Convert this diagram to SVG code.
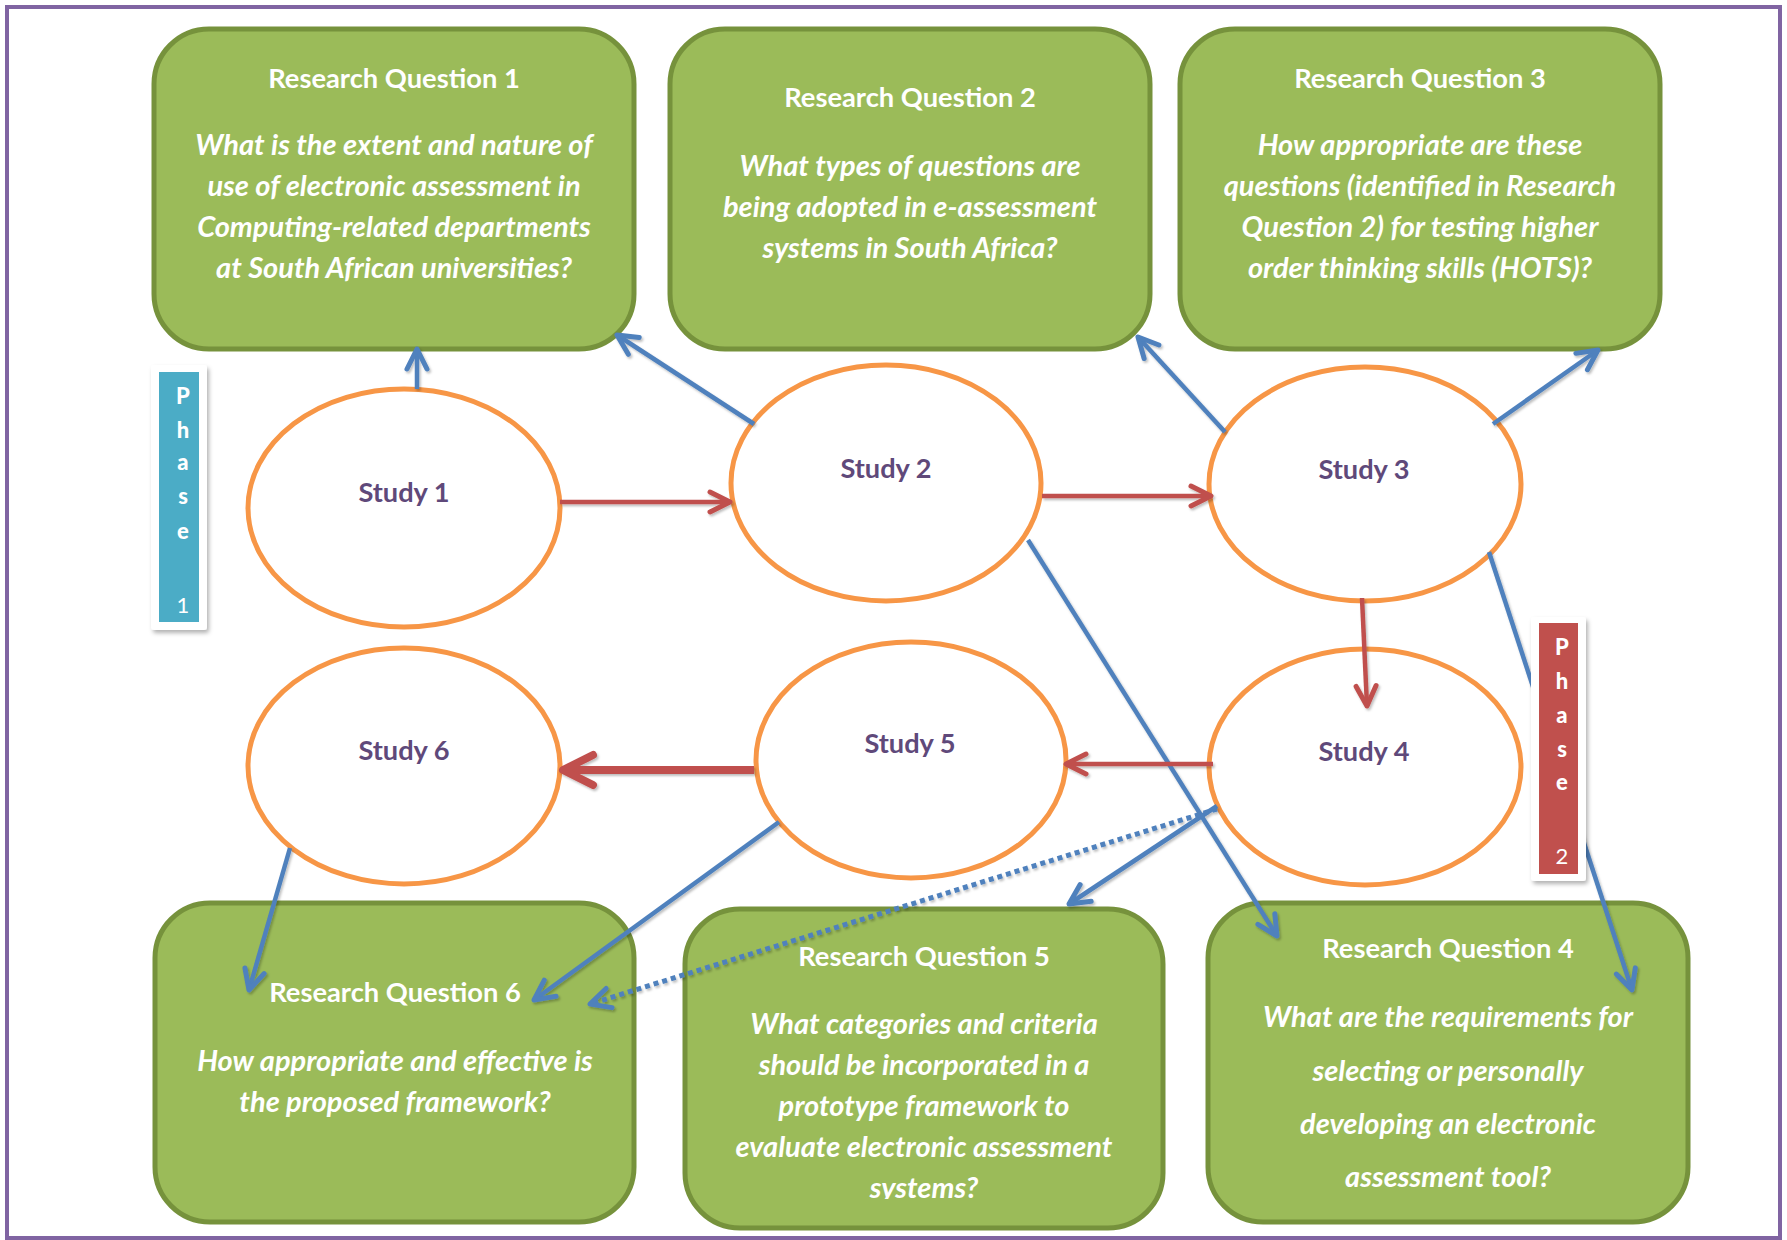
<svg xmlns="http://www.w3.org/2000/svg" width="1787" height="1240" viewBox="0 0 1787 1240">
<style>
.rq{fill:#9BBB59;stroke:#76923C;stroke-width:5}
.st{fill:#FFFFFF;stroke:#F79646;stroke-width:5}
.ttl{font-family:Lato,"Liberation Sans",sans-serif;font-weight:bold;font-size:27.3px;fill:#FFFFFF;text-anchor:middle}
.bdy{font-family:Lato,"Liberation Sans",sans-serif;font-weight:bold;font-style:italic;font-size:29px;fill:#FFFFFF;text-anchor:middle}
.sl{font-family:Lato,"Liberation Sans",sans-serif;font-weight:bold;font-size:27.2px;fill:#5F497A;text-anchor:middle}
.ph{font-family:Lato,"Liberation Sans",sans-serif;font-weight:900;font-size:22px;fill:#FFFFFF;text-anchor:middle}
.phn{font-family:Lato,"Liberation Sans",sans-serif;font-weight:normal;font-size:22px;fill:#FFFFFF;text-anchor:middle}
.blue{stroke:#4F81BD;stroke-width:4.5;fill:none;marker-end:url(#ab)}
.red{stroke:#C0504D;stroke-width:4.5;fill:none;marker-end:url(#ar)}
.redk{stroke:#C0504D;stroke-width:8;fill:none;marker-end:url(#ark)}
.dot{stroke:#4F81BD;stroke-width:5;fill:none;stroke-dasharray:5 4;marker-end:url(#ab)}
</style>
<defs>
<marker id="ab" markerUnits="userSpaceOnUse" viewBox="-26 -14 30 28" refX="0" refY="0" markerWidth="30" markerHeight="28" orient="auto" overflow="visible">
<path d="M-20,-10 L0,0 L-20,10" fill="none" stroke="#4F81BD" stroke-width="5" stroke-linecap="round" stroke-linejoin="round"/>
</marker>
<marker id="ar" markerUnits="userSpaceOnUse" viewBox="-26 -14 30 28" refX="0" refY="0" markerWidth="30" markerHeight="28" orient="auto" overflow="visible">
<path d="M-20,-10 L0,0 L-20,10" fill="none" stroke="#C0504D" stroke-width="5" stroke-linecap="round" stroke-linejoin="round"/>
</marker>
<marker id="ark" markerUnits="userSpaceOnUse" viewBox="-36 -20 40 40" refX="0" refY="0" markerWidth="40" markerHeight="40" orient="auto" overflow="visible">
<path d="M-30,-15 L0,0 L-30,15" fill="none" stroke="#C0504D" stroke-width="8" stroke-linecap="round" stroke-linejoin="round"/>
</marker>
<filter id="sh" x="-20%" y="-20%" width="140%" height="140%">
<feDropShadow dx="2" dy="3" stdDeviation="2" flood-color="#000000" flood-opacity="0.3"/>
</filter>
<filter id="lsh" x="-10%" y="-10%" width="120%" height="120%">
<feDropShadow dx="1.5" dy="2" stdDeviation="1.2" flood-color="#000000" flood-opacity="0.25"/>
</filter>
<clipPath id="c5"><rect x="685" y="909" width="478" height="290"/></clipPath>
</defs>

<rect x="7" y="7" width="1773" height="1231" fill="#FFFFFF" stroke="#8064A2" stroke-width="4"/>

<g id="rq1">
<rect class="rq" x="154" y="29" width="480" height="320" rx="55"/>
<text class="ttl" x="394" y="88">Research Question 1</text>
<text class="bdy" x="394" y="155">What is the extent and nature of</text>
<text class="bdy" x="394" y="196">use of electronic assessment in</text>
<text class="bdy" x="394" y="237">Computing-related departments</text>
<text class="bdy" x="394" y="278">at South African universities?</text>
</g>
<g id="rq2">
<rect class="rq" x="670" y="29" width="480" height="320" rx="55"/>
<text class="ttl" x="910" y="107">Research Question 2</text>
<text class="bdy" x="910" y="176">What types of questions are</text>
<text class="bdy" x="910" y="217">being adopted in e-assessment</text>
<text class="bdy" x="910" y="258">systems in South Africa?</text>
</g>
<g id="rq3">
<rect class="rq" x="1180" y="29" width="480" height="320" rx="55"/>
<text class="ttl" x="1420" y="88">Research Question 3</text>
<text class="bdy" x="1420" y="155">How appropriate are these</text>
<text class="bdy" x="1420" y="196">questions (identified in Research</text>
<text class="bdy" x="1420" y="237">Question 2) for testing higher</text>
<text class="bdy" x="1420" y="278">order thinking skills (HOTS)?</text>
</g>
<g id="rq4">
<rect class="rq" x="1208" y="903" width="480" height="319" rx="55"/>
<text class="ttl" x="1448" y="958">Research Question 4</text>
<text class="bdy" x="1448" y="1027">What are the requirements for</text>
<text class="bdy" x="1448" y="1081">selecting or personally</text>
<text class="bdy" x="1448" y="1134">developing an electronic</text>
<text class="bdy" x="1448" y="1187">assessment tool?</text>
</g>
<g id="rq5">
<rect class="rq" x="685" y="909" width="478" height="319" rx="55"/>
<g clip-path="url(#c5)">
<text class="ttl" x="924" y="966">Research Question 5</text>
<text class="bdy" x="924" y="1034">What categories and criteria</text>
<text class="bdy" x="924" y="1075">should be incorporated in a</text>
<text class="bdy" x="924" y="1116">prototype framework to</text>
<text class="bdy" x="924" y="1157">evaluate electronic assessment</text>
<text class="bdy" x="924" y="1198">systems?</text>
</g>
</g>
<g id="rq6">
<rect class="rq" x="155" y="903" width="479" height="319" rx="55"/>
<text class="ttl" x="395" y="1002">Research Question 6</text>
<text class="bdy" x="395" y="1071">How appropriate and effective is</text>
<text class="bdy" x="395" y="1112">the proposed framework?</text>
</g>

<g id="study1"><ellipse class="st" cx="404" cy="508" rx="156" ry="119"/><text class="sl" x="404" y="502">Study 1</text></g>
<g id="study2"><ellipse class="st" cx="886" cy="483" rx="155" ry="118"/><text class="sl" x="886" y="478">Study 2</text></g>
<g id="study3"><ellipse class="st" cx="1365" cy="484" rx="156" ry="117"/><text class="sl" x="1364" y="479">Study 3</text></g>
<g id="study4"><ellipse class="st" cx="1365" cy="767" rx="156" ry="118"/><text class="sl" x="1364" y="761">Study 4</text></g>
<g id="study5"><ellipse class="st" cx="911" cy="760" rx="155" ry="118"/><text class="sl" x="910" y="753">Study 5</text></g>
<g id="study6"><ellipse class="st" cx="404" cy="766" rx="156" ry="118"/><text class="sl" x="404" y="760">Study 6</text></g>

<g id="connectors" filter="url(#lsh)">
<line class="blue" x1="417" y1="389" x2="417" y2="349"/>
<line class="blue" x1="754" y1="424" x2="617" y2="335"/>
<line class="blue" x1="1225" y1="432" x2="1138" y2="337"/>
<line class="blue" x1="1493" y1="424" x2="1598" y2="350"/>
<line class="blue" x1="1489" y1="552" x2="1632" y2="990"/>
<line class="blue" x1="1028" y1="540" x2="1277" y2="936"/>
<line class="red" x1="1362" y1="598" x2="1367" y2="706"/>
<line class="red" x1="560" y1="502" x2="730" y2="502"/>
<line class="red" x1="1042" y1="496" x2="1211" y2="496"/>
<line class="red" x1="1213" y1="764" x2="1066" y2="764"/>
<line class="redk" x1="754" y1="770" x2="563" y2="770"/>
<line class="blue" x1="290" y1="848" x2="249" y2="990"/>
<line class="blue" x1="779" y1="822" x2="534" y2="1000"/>
<line class="blue" x1="1217" y1="806" x2="1069" y2="904"/>
<line class="dot" x1="1217" y1="809" x2="590" y2="1004"/>
</g>

<g id="phase1">
<rect x="151" y="365" width="56" height="265" rx="3" fill="#FFFFFF" filter="url(#sh)"/>
<rect x="159" y="372" width="40" height="250" fill="#4BACC6"/>
<text class="ph" x="183" y="404">P</text>
<text class="ph" x="183" y="438">h</text>
<text class="ph" x="183" y="470">a</text>
<text class="ph" x="183" y="504">s</text>
<text class="ph" x="183" y="539">e</text>
<text class="phn" x="183" y="613">1</text>
</g>
<g id="phase2">
<rect x="1531" y="617" width="55" height="264" rx="3" fill="#FFFFFF" filter="url(#sh)"/>
<rect x="1539" y="623" width="39" height="251" fill="#C0504D"/>
<text class="ph" x="1562" y="655">P</text>
<text class="ph" x="1562" y="689">h</text>
<text class="ph" x="1562" y="723">a</text>
<text class="ph" x="1562" y="757">s</text>
<text class="ph" x="1562" y="790">e</text>
<text class="phn" x="1562" y="864">2</text>
</g>
</svg>
